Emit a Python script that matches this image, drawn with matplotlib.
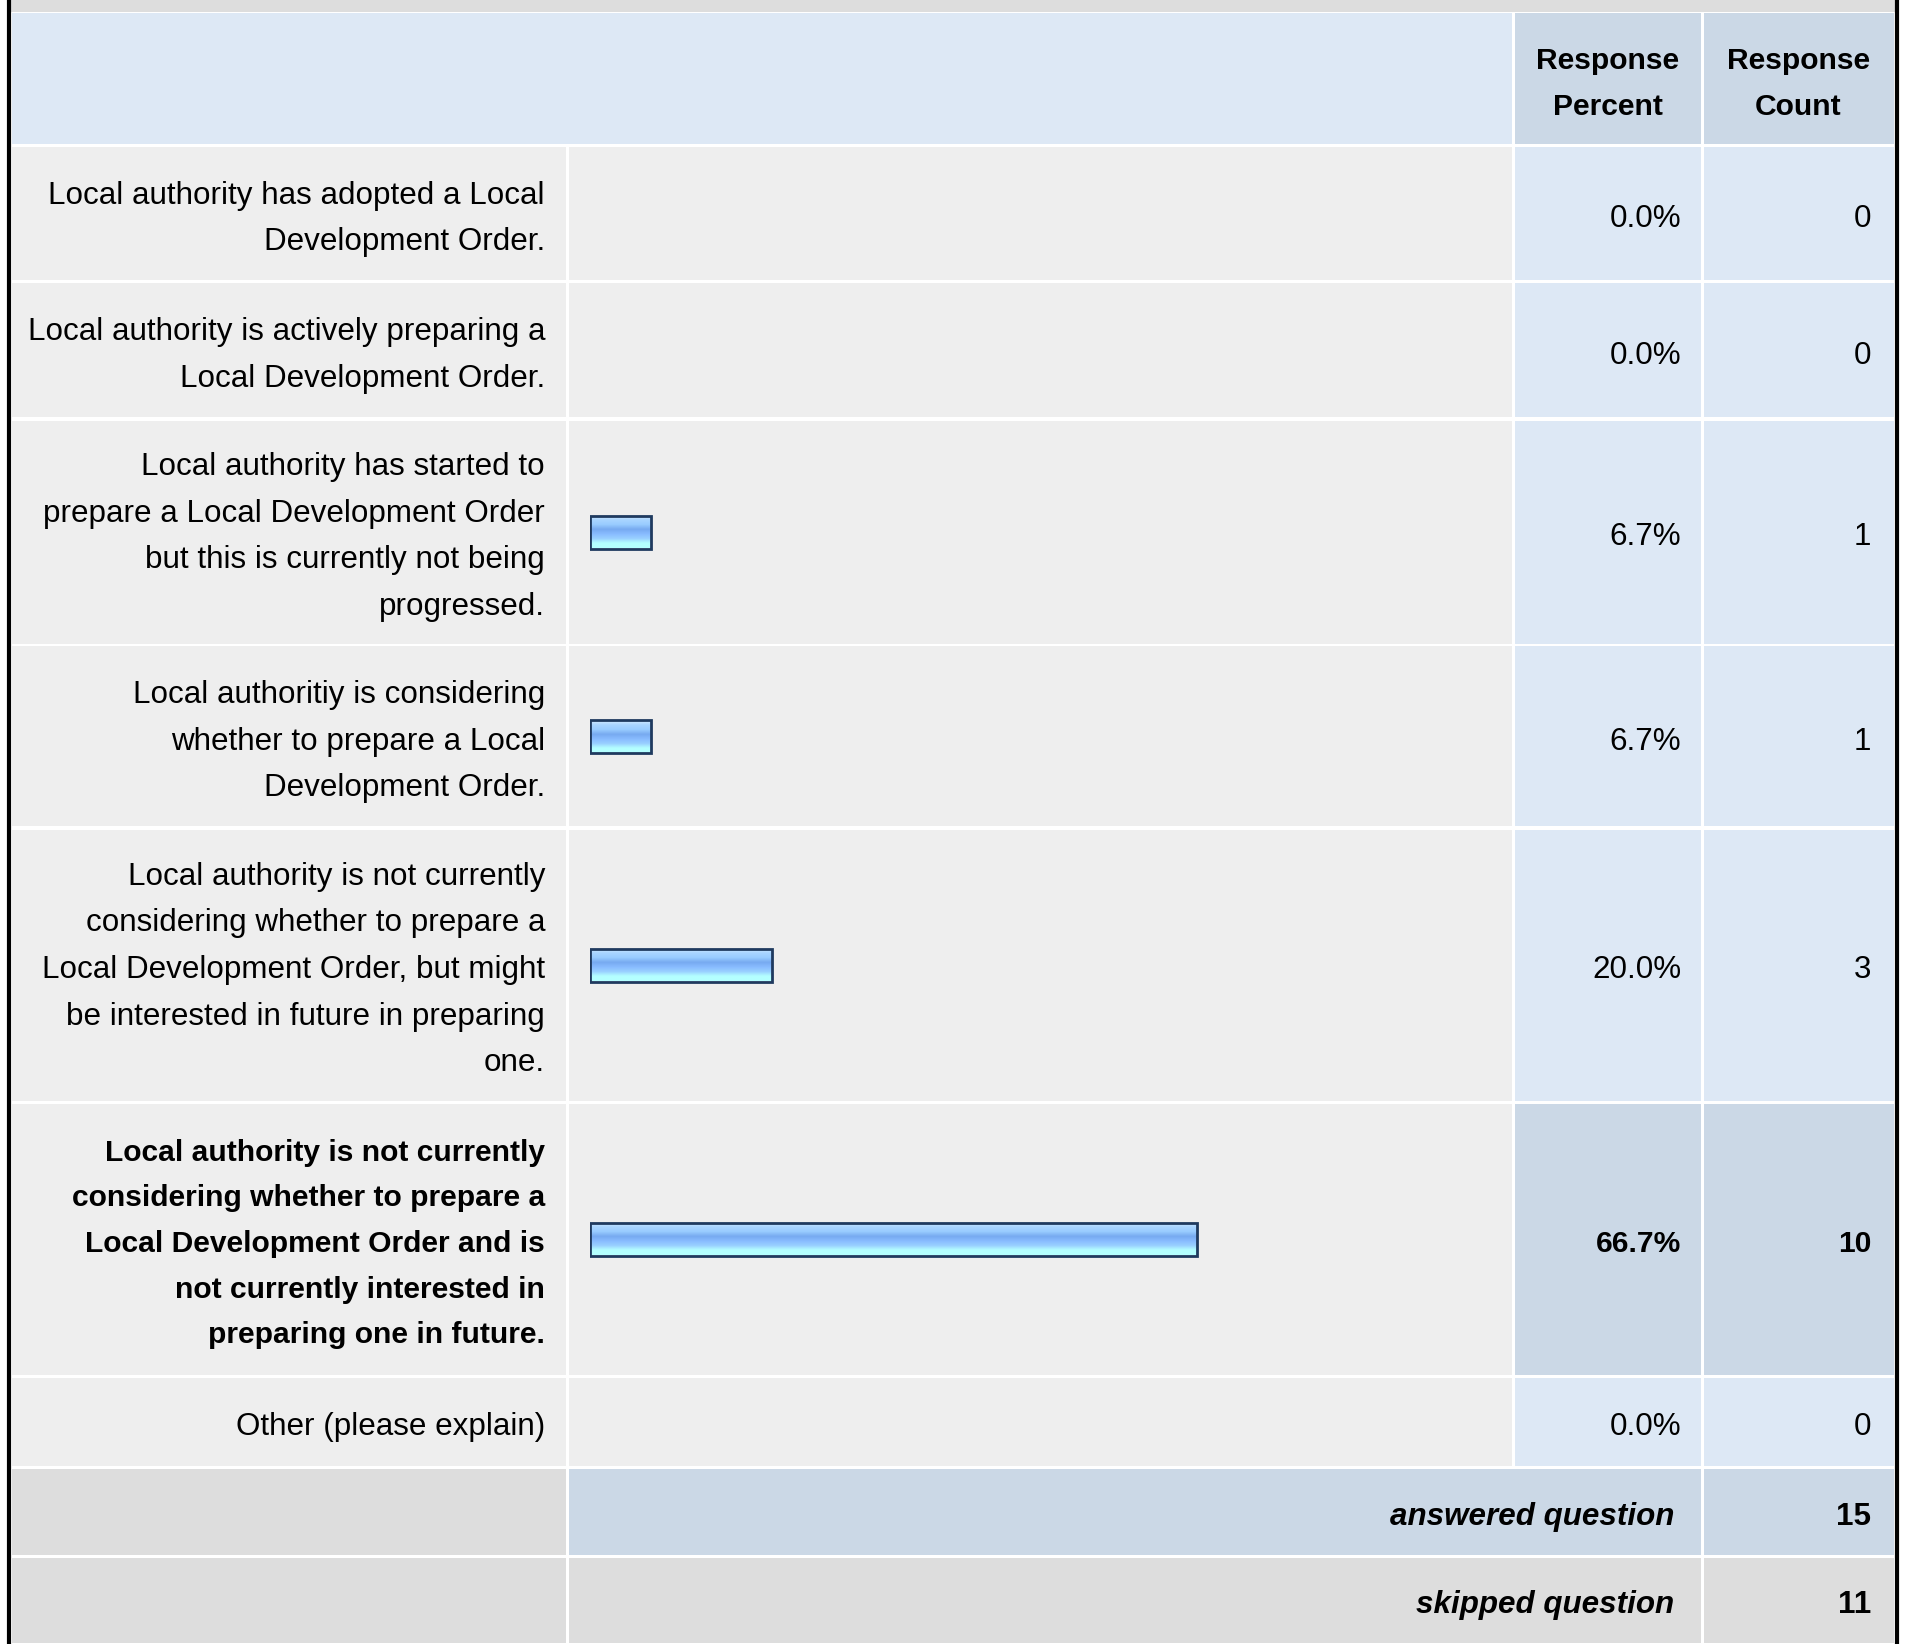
import matplotlib.pyplot as plt
import matplotlib.patches as mpatches
from matplotlib.colors import LinearSegmentedColormap
import numpy as np

plt.rcParams['font.family'] = ['Liberation Sans', 'DejaVu Sans']

# survey answers, as shown in the table
answers = [
    "Local authority has adopted a Local\nDevelopment Order.",
    "Local authority is actively preparing a\nLocal Development Order.",
    "Local authority has started to\nprepare a Local Development Order\nbut this is currently not being\nprogressed.",
    "Local authoritiy is considering\nwhether to prepare a Local\nDevelopment Order.",
    "Local authority is not currently\nconsidering whether to prepare a\nLocal Development Order, but might\nbe interested in future in preparing\none.",
    "Local authority is not currently\nconsidering whether to prepare a\nLocal Development Order and is\nnot currently interested in\npreparing one in future.",
    "Other (please explain)",
]
percents = [0.0, 0.0, 6.7, 6.7, 20.0, 66.7, 0.0]
counts = [0, 0, 1, 1, 3, 10, 0]
answered = 15
skipped = 11

W, H = 1909, 1644
# layout (pixels)
col_x = [10, 567, 1513, 1702, 1895]
row_y = [146, 282, 419, 645, 828, 1102, 1376, 1467, 1556, 1644]
header_top = 12
bar_left, bar_right = 590, 1500
bar_h = 33
dy = 5  # text baseline nudge

BLUE = '#dde8f5'
BLUE_DARK = '#cbd8e6'
GREY = '#eeeeee'
GREY_DARK = '#dddddd'
FS = 22.6
FSB = 21.6   # bold text runs a bit wide in Liberation
LS = 1.72
LSB = LS * FS / FSB

fig = plt.figure(figsize=(W / 100, H / 100), dpi=100)
ax = fig.add_axes([0, 0, 1, 1])
ax.set_xlim(0, W)
ax.set_ylim(H, 0)
ax.axis('off')


def cell(x0, x1, y0, y1, color):
    ax.add_patch(mpatches.Rectangle((x0 + 1.5, y0 + 1.5), x1 - x0 - 3, y1 - y0 - 3,
                                    facecolor=color, edgecolor='none', zorder=1))


# top band and background
ax.add_patch(mpatches.Rectangle((col_x[0], 0), col_x[-1] - col_x[0], H,
                                facecolor='white', edgecolor='none', zorder=0))
ax.add_patch(mpatches.Rectangle((col_x[0], 0), col_x[-1] - col_x[0], header_top,
                                facecolor=GREY_DARK, edgecolor='none', zorder=1))

# header
cell(col_x[0], col_x[2], header_top, row_y[0], BLUE)
cell(col_x[2], col_x[3], header_top, row_y[0], BLUE_DARK)
cell(col_x[3], col_x[4], header_top, row_y[0], BLUE_DARK)
hy = (header_top + row_y[0]) / 2 + dy
ax.text((col_x[2] + col_x[3]) / 2, hy, "Response\nPercent", ha='center', va='center',
        fontsize=FSB, fontweight='bold', linespacing=LSB, zorder=3)
ax.text((col_x[3] + col_x[4]) / 2, hy, "Response\nCount", ha='center', va='center',
        fontsize=FSB, fontweight='bold', linespacing=LSB, zorder=3)

top_pct = percents.index(max(percents))
for i, (lab, p, c) in enumerate(zip(answers, percents, counts)):
    y0, y1 = row_y[i], row_y[i + 1]
    yc = (y0 + y1) / 2 + dy
    hl = i == top_pct
    cell(col_x[0], col_x[1], y0, y1, GREY)
    cell(col_x[1], col_x[2], y0, y1, GREY)
    cell(col_x[2], col_x[3], y0, y1, BLUE_DARK if hl else BLUE)
    cell(col_x[3], col_x[4], y0, y1, BLUE_DARK if hl else BLUE)
    w = 'bold' if hl else 'normal'
    fs = FSB if hl else FS
    ax.text(col_x[1] - 22, yc, lab, ha='right', va='center', fontsize=fs,
            fontweight=w, linespacing=LSB if hl else LS, zorder=3)
    ax.text(col_x[3] - 21, yc, f"{p:.1f}%", ha='right', va='center', fontsize=fs,
            fontweight=w, zorder=3)
    ax.text(col_x[4] - 24, yc, f"{c}", ha='right', va='center', fontsize=fs,
            fontweight=w, zorder=3)

# footer rows
n = len(answers)
cell(col_x[0], col_x[1], row_y[n], row_y[n + 1], GREY_DARK)
cell(col_x[1], col_x[3], row_y[n], row_y[n + 1], BLUE_DARK)
cell(col_x[3], col_x[4], row_y[n], row_y[n + 1], BLUE_DARK)
cell(col_x[0], col_x[1], row_y[n + 1], row_y[n + 2], GREY_DARK)
cell(col_x[1], col_x[3], row_y[n + 1], row_y[n + 2], GREY_DARK)
cell(col_x[3], col_x[4], row_y[n + 1], row_y[n + 2], GREY_DARK)
for k, (txt, val) in enumerate([("answered question", answered), ("skipped question", skipped)]):
    yc = (row_y[n + k] + row_y[n + k + 1]) / 2 + dy
    ax.text(col_x[3] - 28, yc, txt, ha='right', va='center', fontsize=FS,
            fontweight='bold', fontstyle='italic', zorder=3)
    ax.text(col_x[4] - 24, yc, f"{val}", ha='right', va='center', fontsize=FS,
            fontweight='bold', zorder=3)

# outer border
ax.plot([8.5, 8.5], [0, H], color='black', lw=3, zorder=4, solid_capstyle='butt')
ax.plot([1896.5, 1896.5], [0, H], color='black', lw=3, zorder=4, solid_capstyle='butt')

# bars in their own axes, 0-100 %
bax = fig.add_axes([bar_left / W, 0, (bar_right - bar_left) / W, 1])
bax.set_xlim(0, 100)
bax.set_ylim(H, 0)
bax.axis('off')
bax.patch.set_alpha(0)
centers = [(row_y[i] + row_y[i + 1]) / 2 for i in range(n)]
grad = LinearSegmentedColormap.from_list('bar', ['#d4ecff', '#a8d4ff', '#99ccff', '#77aaf0',
                                                 '#88bbff', '#99d0ff', '#b4ffff', '#b4ffff'])
g = np.linspace(0, 1, 64).reshape(-1, 1)
bars = bax.barh(centers, percents, height=bar_h, facecolor='none',
                edgecolor='#1f3a5f', linewidth=2, zorder=3)
for b, p in zip(bars, percents):
    if p <= 0:
        b.set_visible(False)
        continue
    x0, y0 = b.get_x(), b.get_y()
    im = bax.imshow(g, cmap=grad, aspect='auto', zorder=2,
                    extent=(x0, x0 + b.get_width(), y0 + b.get_height(), y0))
    im.set_clip_path(b)

fig.savefig('out.png', dpi=100)
